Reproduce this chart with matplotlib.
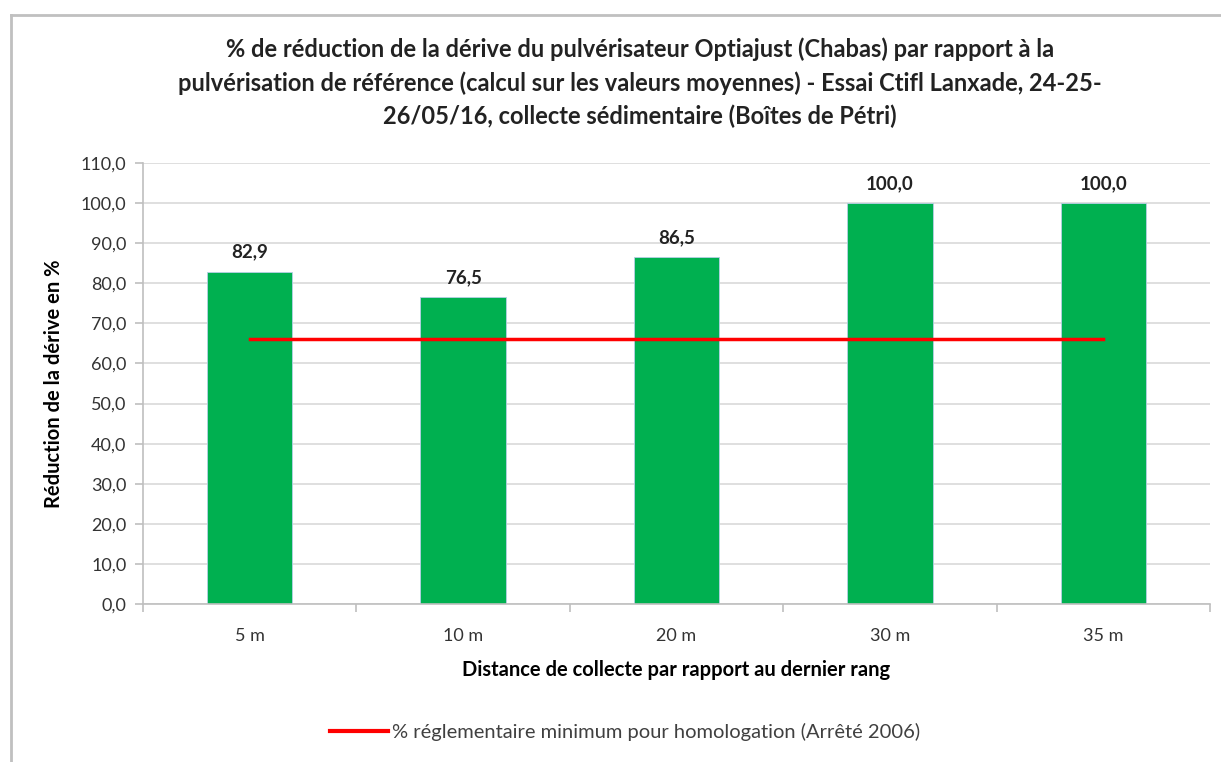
import numpy as np
import matplotlib.pyplot as plt
from matplotlib.lines import Line2D

# data
distances = ["5 m", "10 m", "20 m", "30 m", "35 m"]
reduction = [82.9, 76.5, 86.5, 100.0, 100.0]
seuil = [66.0, 66.0, 66.0, 66.0, 66.0]
yticks = np.arange(0, 111, 10)

titre = ("% de réduction de la dérive du pulvérisateur Optiajust (Chabas) par rapport à la\n"
         "pulvérisation de référence (calcul sur les valeurs moyennes) - Essai Ctifl Lanxade, 24-25-\n"
         "26/05/16, collecte sédimentaire (Boîtes de Pétri)")

plt.rcParams['font.family'] = ['Lato', 'DejaVu Sans']

W, H = 1221, 762
fig = plt.figure(figsize=(W / 100, H / 100), dpi=100)

# grey chart frame (top and left visible, rest runs off the picture)
fig.add_artist(Line2D([11 / W, 11 / W], [0, 1 - 15 / H], color="#c0c0c0", lw=2))
fig.add_artist(Line2D([11 / W, 1.01], [1 - 15 / H, 1 - 15 / H], color="#c0c0c0", lw=2))

ax = fig.add_axes([143 / W, (H - 604) / H, (1210 - 143) / W, (604 - 163) / H])
x = np.arange(len(distances))

ax.bar(x, reduction, width=0.4, color="#00b050", edgecolor="#b7cfe6", lw=0.6, zorder=2)
ax.plot(x, seuil, color="#ff0000", lw=2.5, zorder=3)

for xi, v in zip(x, reduction):
    ax.text(xi, v + 2.8, f"{v:.1f}".replace(".", ","), ha="center", va="bottom",
            fontsize=13.5, fontweight="bold", color="#222222")

ax.set_xlim(-0.5, len(distances) - 0.5)
ax.set_ylim(0, 110)
ax.set_yticks(yticks)
ax.set_yticklabels([f"{t:.1f}".replace(".", ",") for t in yticks], fontsize=13, color="#333333")
ax.yaxis.grid(True, color="#d9d9d9", lw=1.2, zorder=0)
ax.set_axisbelow(True)

ax.set_xticks(x)
ax.set_xticklabels(distances, fontsize=13, color="#333333")
ax.tick_params(axis="x", length=0, pad=17)
ax.set_xticks(np.arange(-0.5, len(distances)), minor=True)
ax.tick_params(axis="x", which="minor", length=6, color="#bfbfbf", width=1.2)
ax.tick_params(axis="y", length=6, color="#bfbfbf", width=1.2, pad=6)

for s in ["top", "right"]:
    ax.spines[s].set_visible(False)
for s in ["left", "bottom"]:
    ax.spines[s].set_color("#bfbfbf")
    ax.spines[s].set_linewidth(1.2)

ax.set_ylabel("Réduction de la dérive en %", fontsize=14.5, fontweight="bold", labelpad=12)
ax.set_xlabel("Distance de collecte par rapport au dernier rang", fontsize=14.5,
              fontweight="bold", labelpad=12)

fig.text(640 / W, 1 - 83 / H, titre, ha="center", va="center", fontsize=17,
         fontweight="bold", linespacing=1.5, color="#222222")

leg = fig.legend([Line2D([], [], color="#ff0000", lw=3)],
                 ["% réglementaire minimum pour homologation (Arrêté 2006)"],
                 loc="center", bbox_to_anchor=(625 / W, 1 - 732 / H), frameon=False,
                 fontsize=14.5, handlelength=2.9, handletextpad=0.2)
for t in leg.get_texts():
    t.set_color("#404040")

fig.savefig("out.png", dpi=100)
